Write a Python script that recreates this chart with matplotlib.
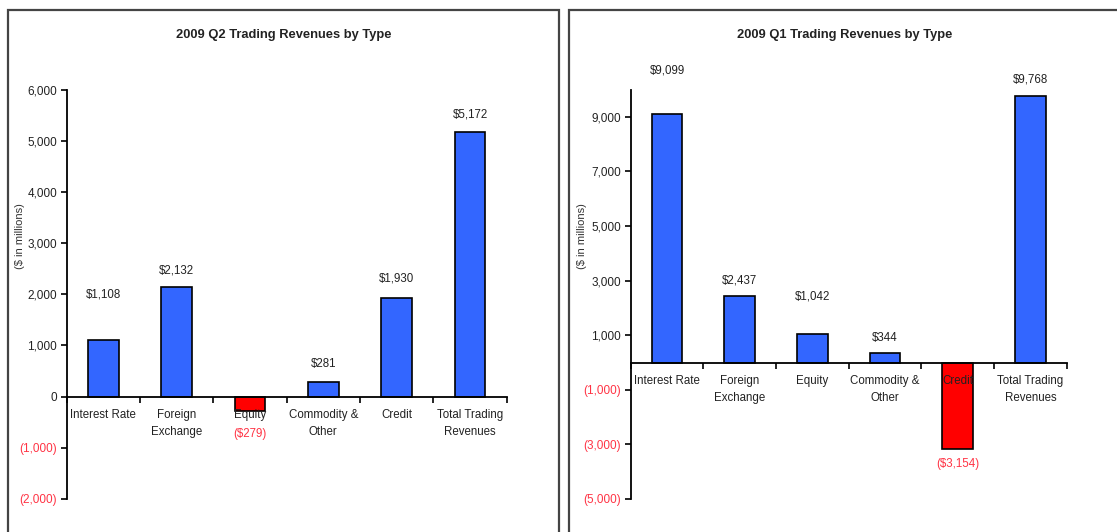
import matplotlib
matplotlib.use("Agg")
import matplotlib.pyplot as plt
from matplotlib.patches import Rectangle
from matplotlib.ticker import FixedLocator, FuncFormatter
import numpy as np

plt.rcParams['font.family'] = ['Liberation Sans', 'DejaVu Sans']

categories = ["Interest Rate", "Foreign\nExchange", "Equity",
              "Commodity &\nOther", "Credit", "Total Trading\nRevenues"]

q2_values = [1108, 2132, -279, 281, 1930, 5172]
q1_values = [9099, 2437, 1042, 344, -3154, 9768]

q2_ticks = [-2000, -1000, 0, 1000, 2000, 3000, 4000, 5000, 6000]
q1_ticks = [-5000, -3000, -1000, 1000, 3000, 5000, 7000, 9000]

# distance (px) from bar end to the centre of its value label
q2_label_gap = [45, 17, 23, 18, 19, 17]
q1_label_gap = [44, 15, 38, 15, 15, 16]

BLUE = "#3366FF"
RED = "#FF0000"
NEG_TEXT = "#FF3344"
TEXT = "#222222"

W, H = 1117, 532
fig = plt.figure(figsize=(W / 100, H / 100), dpi=100)

# panel frames
fig.patches.append(Rectangle((8 / W, -0.1), (559 - 8) / W, (H - 10) / H + 0.1,
                             transform=fig.transFigure, fill=False,
                             edgecolor="#444444", linewidth=1.6))
fig.patches.append(Rectangle((569 / W, -0.1), 0.5, (H - 10) / H + 0.1,
                             transform=fig.transFigure, fill=False,
                             edgecolor="#444444", linewidth=1.6))


def money(v):
    return "${:,}".format(v) if v >= 0 else "(${:,})".format(-v)


def tick_fmt(v, pos):
    v = int(round(v))
    if v < 0:
        return "({:,})".format(-v)
    return "{:,}".format(v)


def draw_panel(rect, title, values, ticks, ylim, gaps, title_x, ylabel_x):
    ax = fig.add_axes(rect)
    x = np.arange(len(values))
    colors = [BLUE if v >= 0 else RED for v in values]
    ax.bar(x, values, width=0.42, color=colors, edgecolor="black",
           linewidth=1.2, zorder=1)

    ax.set_xlim(-0.5, len(values) - 0.5)
    ax.set_ylim(*ylim)

    for sp in ["top", "right"]:
        ax.spines[sp].set_visible(False)
    ax.spines["bottom"].set_position(("data", 0))
    ax.spines["left"].set_bounds(ylim[0], ylim[1])
    for sp in ["left", "bottom"]:
        ax.spines[sp].set_linewidth(1.3)
        ax.spines[sp].set_color("black")

    ax.yaxis.set_major_locator(FixedLocator(ticks))
    ax.yaxis.set_major_formatter(FuncFormatter(tick_fmt))
    ax.tick_params(axis="y", direction="out", length=4, width=1.2,
                   labelsize=8.5, pad=3)
    for t, v in zip(ax.get_yticklabels(), ticks):
        t.set_color(NEG_TEXT if v < 0 else TEXT)

    ax.set_xticks(x)
    ax.set_xticklabels(categories, fontsize=8.3, color=TEXT, linespacing=1.55)
    ax.set_xticks(np.arange(len(values) + 1) - 0.5, minor=True)
    ax.tick_params(axis="x", which="major", length=0, pad=9)
    ax.tick_params(axis="x", which="minor", direction="out", length=4,
                   width=1.2)

    for xi, v, g in zip(x, values, gaps):
        if v >= 0:
            ax.annotate(money(v), (xi, v), xytext=(0, g * 0.72),
                        textcoords="offset points", ha="center", va="center",
                        fontsize=8.3, color=TEXT)
        else:
            ax.annotate(money(v), (xi, v), xytext=(0, -g * 0.72),
                        textcoords="offset points", ha="center", va="center",
                        fontsize=8.3, color=NEG_TEXT)

    fig.text(title_x / W, 1 - 35 / H, title, ha="center", va="center",
             fontsize=9.3, fontweight="bold", color=TEXT)
    fig.text(ylabel_x / W, 1 - 236 / H, "($ in millions)", rotation=90,
             ha="center", va="center", fontsize=8, color="#333333")
    return ax


top_px, bot_px = 89.5, 499.0
h = (bot_px - top_px) / H
b = (H - bot_px) / H

draw_panel([66.7 / W, b, 440 / W, h], "2009 Q2 Trading Revenues by Type",
           q2_values, q2_ticks, (-2000, 6000), q2_label_gap, 284, 20)
draw_panel([630.7 / W, b, 436 / W, h], "2009 Q1 Trading Revenues by Type",
           q1_values, q1_ticks, (-5000, 10000), q1_label_gap, 845, 582)

fig.savefig("out.png", dpi=100)
